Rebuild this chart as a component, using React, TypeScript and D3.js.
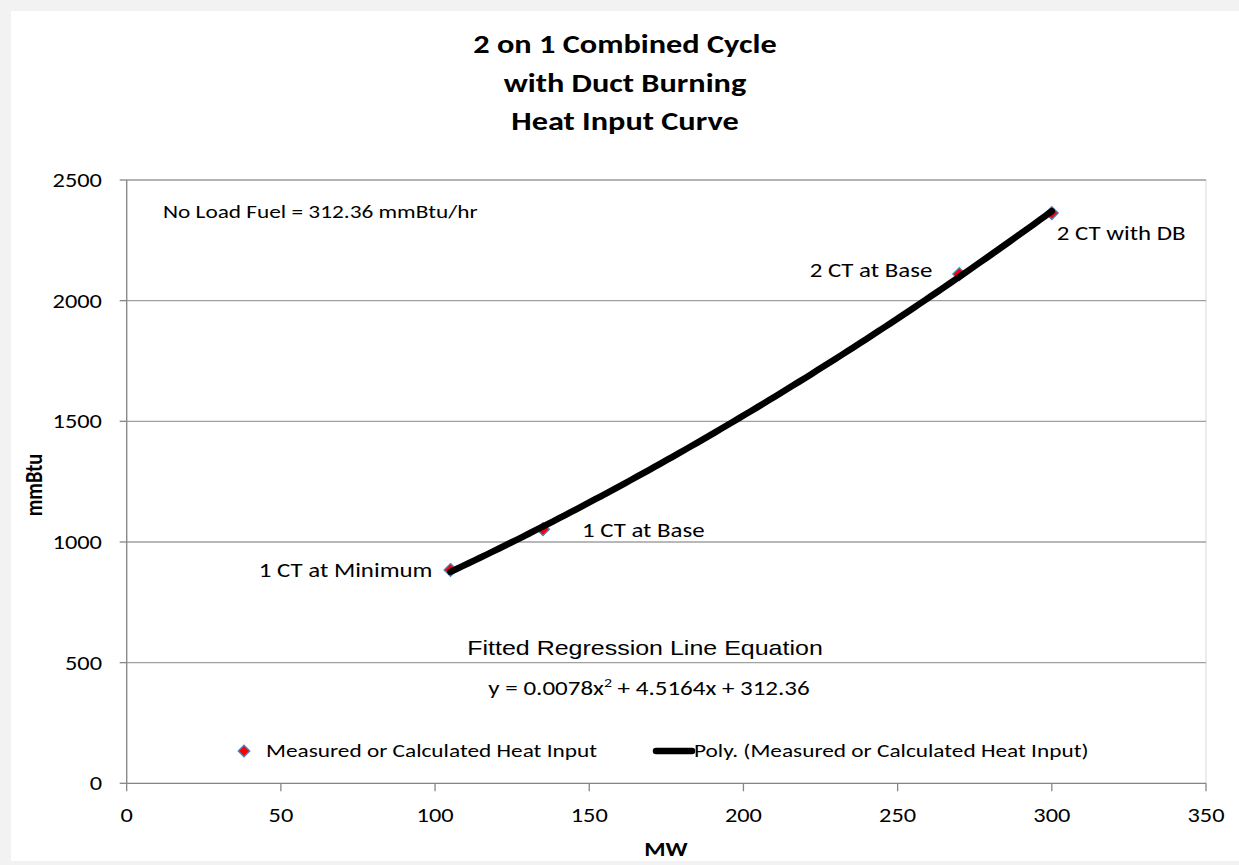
import React from 'react';
import * as d3 from 'd3';

const W = 1239;
const H = 865;

const titleLines = ['2 on 1 Combined Cycle', 'with Duct Burning', 'Heat Input Curve'];
const pointLabels = ['1 CT at Minimum', '1 CT at Base', '2 CT at Base', '2 CT with DB'];
const mwValues = [105, 135, 270, 300];
const heatInput = [884, 1053, 2110, 2363];
const xTicks = [0, 50, 100, 150, 200, 250, 300, 350];
const yTicks = [0, 500, 1000, 1500, 2000, 2500];
const seriesName = 'Measured or Calculated Heat Input';
const trendName = 'Poly. (Measured or Calculated Heat Input)';
const noLoadText = 'No Load Fuel = 312.36 mmBtu/hr';
const eqTitle = 'Fitted Regression Line Equation';

// label offsets (layout only)
const labelLayout = [
  { dx: -18, dy: 7, anchor: 'end' },
  { dx: 39, dy: 8, anchor: 'start' },
  { dx: -27, dy: 3, anchor: 'end' },
  { dx: 5, dy: 27, anchor: 'start' },
];

// least-squares quadratic fit of the series (Excel "Poly." trendline, order 2)
function fitQuadratic(xs: number[], ys: number[]) {
  const s = [0, 0, 0, 0, 0];
  const t = [0, 0, 0];
  xs.forEach((x, i) => {
    for (let k = 0; k < 5; k++) s[k] += Math.pow(x, k);
    for (let k = 0; k < 3; k++) t[k] += Math.pow(x, k) * ys[i];
  });
  const A = [
    [s[0], s[1], s[2], t[0]],
    [s[1], s[2], s[3], t[1]],
    [s[2], s[3], s[4], t[2]],
  ];
  for (let i = 0; i < 3; i++) {
    for (let j = i + 1; j < 3; j++) {
      const f = A[j][i] / A[i][i];
      for (let k = i; k < 4; k++) A[j][k] -= f * A[i][k];
    }
  }
  const c = [0, 0, 0];
  for (let i = 2; i >= 0; i--) {
    let v = A[i][3];
    for (let k = i + 1; k < 3; k++) v -= A[i][k] * c[k];
    c[i] = v / A[i][i];
  }
  return (x: number) => c[0] + c[1] * x + c[2] * x * x;
}

const FONT = 'Carlito, Lato, "Open Sans", sans-serif';
const SX = 1.22; // horizontal stretch of the reference rendering

function T(props: {
  x: number; y: number; size: number; anchor?: string; bold?: boolean; family?: string; sx?: number; rotate?: number;
  children: React.ReactNode;
}) {
  const { x, y, size, anchor = 'start', bold, family, sx = SX, rotate, children } = props;
  const tr = `translate(${x},${y}) scale(${sx},1)` + (rotate ? ` rotate(${rotate})` : '');
  return (
    <text transform={tr} textAnchor={anchor as any} fontSize={size} fontWeight={bold ? 'bold' : 'normal'}
      fontFamily={family || FONT} fill="#000">
      {children}
    </text>
  );
}

export default function App() {
  const left = 126.7, right = 1206, top = 180, bottom = 783.3;
  const x = d3.scaleLinear().domain([0, 350]).range([left, right]);
  const y = d3.scaleLinear().domain([0, 2500]).range([bottom, top]);

  const poly = fitQuadratic(mwValues, heatInput);
  const xmin = d3.min(mwValues)!, xmax = d3.max(mwValues)!;
  const samples = d3.range(0, 101).map((i) => xmin + ((xmax - xmin) * i) / 100);
  const linePath = d3.line<number>().x((d) => x(d)).y((d) => y(poly(d)))(samples)!;

  const diamond = d3.symbol().type(d3.symbolDiamond2).size(105)()!;
  const legendDiamond = d3.symbol().type(d3.symbolDiamond2).size(85)()!;

  return (
    <svg width={W} height={H} style={{ position: 'absolute', left: 0, top: 0, display: 'block' }} fontFamily={FONT}>
      <rect x={0} y={0} width={W} height={H} fill="#f2f2f2" />
      <rect x={11} y={11} width={W - 11} height={850} fill="#ffffff" />

      {titleLines.map((t, i) => (
        <T key={t} x={625} y={53 + i * 38.5} size={26.5} anchor="middle" bold>{t}</T>
      ))}

      {/* plot area border */}
      <rect x={left} y={top} width={right - left} height={bottom - top} fill="none" stroke="#d9d9d9" strokeWidth={1} />

      {/* gridlines */}
      {yTicks.filter((v) => v > 0).map((v) => (
        <line key={v} x1={left} x2={right} y1={y(v)} y2={y(v)} stroke="#a0a0a0" strokeWidth={1.3} />
      ))}

      {/* axes */}
      <line x1={left} x2={right} y1={bottom} y2={bottom} stroke="#868686" strokeWidth={1.3} />
      <line x1={left} x2={left} y1={top} y2={bottom} stroke="#868686" strokeWidth={1.3} />
      {xTicks.map((v) => (
        <g key={v}>
          <line x1={x(v)} x2={x(v)} y1={bottom} y2={bottom + 8} stroke="#868686" strokeWidth={1.3} />
          <T x={x(v)} y={822} size={20} anchor="middle">{v}</T>
        </g>
      ))}
      {yTicks.map((v) => (
        <g key={v}>
          <line x1={left - 7} x2={left} y1={y(v)} y2={y(v)} stroke="#868686" strokeWidth={1.3} />
          <T x={102} y={y(v) + 7} size={20} anchor="end">{v}</T>
        </g>
      ))}

      {/* axis titles */}
      <T x={666} y={856} size={20} anchor="middle" bold>MW</T>
      <T x={42} y={485} size={20.5} anchor="middle" bold rotate={-90}>mmBtu</T>

      {/* markers */}
      {mwValues.map((v, i) => (
        <path key={i} d={diamond} transform={`translate(${x(v)},${y(heatInput[i])})`} fill="#ff0000" stroke="#4f81bd" strokeWidth={1.3} />
      ))}

      {/* trendline */}
      <path d={linePath} fill="none" stroke="#000" strokeWidth={6.5} strokeLinecap="round" />

      {/* data labels */}
      {mwValues.map((v, i) => (
        <T key={i} x={x(v) + labelLayout[i].dx} y={y(heatInput[i]) + labelLayout[i].dy} size={20.4} anchor={labelLayout[i].anchor}>
          {pointLabels[i]}
        </T>
      ))}

      {/* annotations */}
      <T x={163} y={218} size={19.1}>{noLoadText}</T>
      <T x={645} y={655} size={21} sx={1.19} anchor="middle" family='"Liberation Sans", Arial, sans-serif'>{eqTitle}</T>
      <T x={649} y={695} size={20.5} anchor="middle">
        y = 0.0078x<tspan dy={-8} fontSize={13}>2</tspan><tspan dy={8}> + 4.5164x + 312.36</tspan>
      </T>

      {/* legend */}
      <path d={legendDiamond} transform="translate(244,751)" fill="#ff0000" stroke="#4f81bd" strokeWidth={1.3} />
      <T x={266} y={757} size={19.1}>{seriesName}</T>
      <line x1={656} x2={692} y1={751} y2={751} stroke="#000" strokeWidth={6.5} strokeLinecap="round" />
      <T x={694} y={757} size={19.1}>{trendName}</T>
    </svg>
  );
}
